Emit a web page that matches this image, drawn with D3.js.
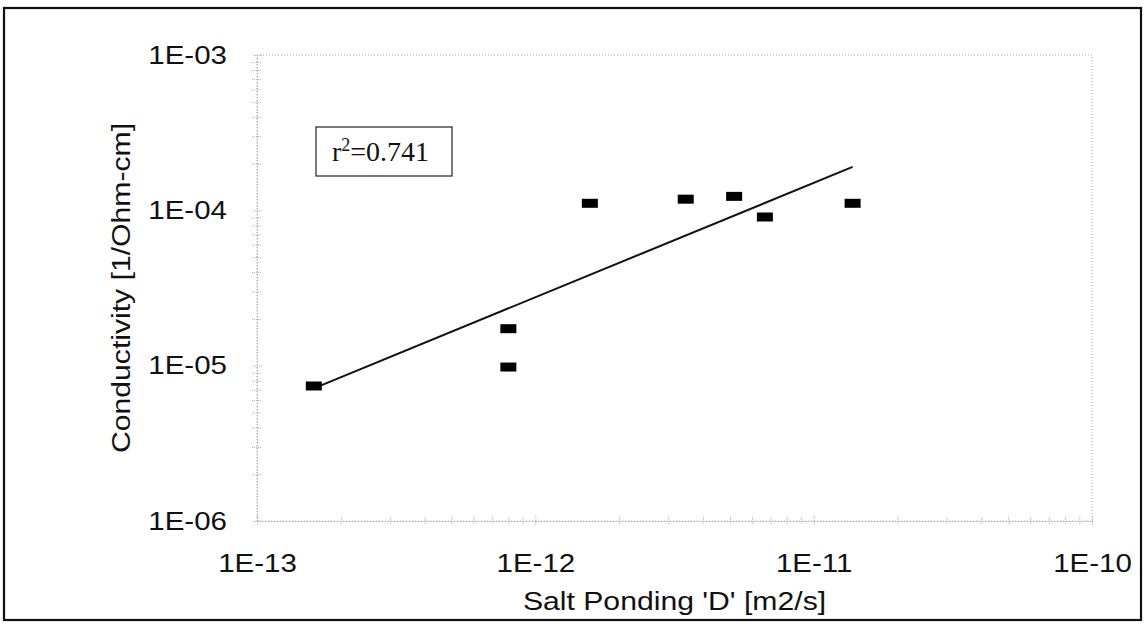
<!DOCTYPE html>
<html>
<head>
<meta charset="utf-8">
<script src="https://cdn.jsdelivr.net/npm/d3@7"></script>
<style>
  body { margin: 0; background: #fff; }
  text { font-family: "Liberation Sans", Arial, sans-serif; fill: #111; }
  .axis path.domain { stroke: #9a9a9a; stroke-dasharray: 1,2; }
  .axis line { stroke: #b4b4b4; stroke-dasharray: 1,1; }
  .plot-frame { fill: none; stroke: #a8a8a8; stroke-dasharray: 1,2; }
</style>
</head>
<body>
<div id="chart"></div>
<script>
// salt ponding diffusion coefficient vs. conductivity
const diffusion = [1.60e-13, 8.0e-13, 8.0e-13, 1.57e-12, 3.47e-12, 5.18e-12, 6.68e-12, 1.38e-11];
const conductivity = [7.4e-6, 1.73e-5, 9.8e-6, 1.11e-4, 1.18e-4, 1.23e-4, 9.06e-5, 1.11e-4];
const xTicks = [1e-13, 1e-12, 1e-11, 1e-10];
const xTickLabels = ["1E-13", "1E-12", "1E-11", "1E-10"];
const yTicks = [1e-6, 1e-5, 1e-4, 1e-3];
const yTickLabels = ["1E-06", "1E-05", "1E-04", "1E-03"];
const rSquared = "0.741";

class LogScatter {
  constructor(_config) {
    this.config = {
      parent: _config.parent,
      width: _config.width || 1147,
      height: _config.height || 635,
      margin: _config.margin || { top: 55, right: 55, bottom: 114, left: 257 },
      stretch: 1.18,
      markerW: 16,
      markerH: 9,
    };
    this.initVis();
  }

  // the scanned labels are wider than the plain font
  stretchText(sel, k) {
    sel.each(function () {
      const len = this.getComputedTextLength();
      d3.select(this).attr("textLength", len * k).attr("lengthAdjust", "spacingAndGlyphs");
    });
  }

  initVis() {
    let vis = this;
    const m = vis.config.margin;
    vis.width = vis.config.width - m.left - m.right;
    vis.height = vis.config.height - m.top - m.bottom;

    vis.svg = d3.select(vis.config.parent).append("svg")
      .attr("width", vis.config.width)
      .attr("height", vis.config.height);

    // outer chart border
    vis.svg.append("rect")
      .attr("x", 4).attr("y", 8)
      .attr("width", 1137).attr("height", 612)
      .attr("fill", "none").attr("stroke", "#111").attr("stroke-width", 2.2);

    vis.chart = vis.svg.append("g")
      .attr("transform", `translate(${m.left},${m.top})`);

    vis.x = d3.scaleLog().domain([1e-13, 1e-10]).range([0, vis.width]);
    vis.y = d3.scaleLog().domain([1e-6, 1e-3]).range([vis.height, 0]);

    vis.chart.append("rect")
      .attr("class", "plot-frame")
      .attr("width", vis.width).attr("height", vis.height);

    this.updateVis();
  }

  updateVis() {
    const vis = this;
    const k = vis.config.stretch;

    const minorX = vis.x.ticks().filter((d) => !xTicks.includes(d));
    const minorY = vis.y.ticks().filter((d) => !yTicks.includes(d));

    // minor ticks crossing the axes
    const xMinor = vis.chart.append("g").attr("class", "axis")
      .attr("transform", `translate(0,${vis.height})`)
      .call(d3.axisBottom(vis.x).tickValues(minorX).tickFormat("").tickSizeOuter(0));
    xMinor.selectAll("line").attr("y1", -4).attr("y2", 4);
    xMinor.select(".domain").remove();

    const yMinor = vis.chart.append("g").attr("class", "axis")
      .call(d3.axisLeft(vis.y).tickValues(minorY).tickFormat("").tickSizeOuter(0));
    yMinor.selectAll("line").attr("x1", -5).attr("x2", 5);
    yMinor.select(".domain").remove();

    vis.xAxisG = vis.chart.append("g").attr("class", "axis")
      .attr("transform", `translate(0,${vis.height})`)
      .call(d3.axisBottom(vis.x)
        .tickValues(xTicks)
        .tickFormat((d, i) => xTickLabels[i])
        .tickSizeInner(5).tickSizeOuter(0).tickPadding(28));
    vis.xAxisG.selectAll("line").attr("y1", -5);
    vis.xAxisG.selectAll("text").attr("font-size", 25).style("font-family", null);
    vis.stretchText(vis.xAxisG.selectAll("text"), k);

    vis.yAxisG = vis.chart.append("g").attr("class", "axis")
      .call(d3.axisLeft(vis.y)
        .tickValues(yTicks)
        .tickFormat((d, i) => yTickLabels[i])
        .tickSizeInner(5).tickSizeOuter(0).tickPadding(25));
    vis.yAxisG.selectAll("line").attr("x1", 5).attr("x2", -5);
    vis.yAxisG.selectAll("text").attr("font-size", 25).style("font-family", null);
    vis.stretchText(vis.yAxisG.selectAll("text"), k);

    // axis titles
    const xTitle = vis.svg.append("text")
      .attr("x", vis.config.margin.left + vis.width / 2)
      .attr("y", 610)
      .attr("text-anchor", "middle")
      .attr("font-size", 26)
      .text("Salt Ponding 'D' [m2/s]");
    vis.stretchText(xTitle, 1.16);

    const yTitle = vis.svg.append("text")
      .attr("transform", `translate(130,${vis.config.margin.top + vis.height / 2}) rotate(-90)`)
      .attr("text-anchor", "middle")
      .attr("font-size", 26)
      .text("Conductivity [1/Ohm-cm]");
    vis.stretchText(yTitle, 1.16);

    // power trend line: least squares in log-log space
    const lx = diffusion.map(Math.log10);
    const ly = conductivity.map(Math.log10);
    const mx = d3.mean(lx), my = d3.mean(ly);
    const sxy = d3.sum(lx, (d, i) => (d - mx) * (ly[i] - my));
    const sxx = d3.sum(lx, (d) => (d - mx) ** 2);
    const slope = sxy / sxx;
    const fit = (d) => Math.pow(10, my + slope * (Math.log10(d) - mx));
    const xExt = d3.extent(diffusion);

    vis.chart.append("path")
      .datum(xExt)
      .attr("fill", "none")
      .attr("stroke", "#111")
      .attr("stroke-width", 2)
      .attr("d", d3.line().x((d) => vis.x(d)).y((d) => vis.y(fit(d))));

    vis.chart.selectAll("rect.marker")
      .data(diffusion.map((d, i) => ({ d, c: conductivity[i] })))
      .join("rect")
      .attr("class", "marker")
      .attr("x", (p) => vis.x(p.d) - vis.config.markerW / 2)
      .attr("y", (p) => vis.y(p.c) - vis.config.markerH / 2)
      .attr("width", vis.config.markerW)
      .attr("height", vis.config.markerH)
      .attr("fill", "#000");

    // r-squared label box
    const box = vis.svg.append("g").attr("transform", "translate(316,127)");
    box.append("rect")
      .attr("width", 136).attr("height", 49)
      .attr("fill", "#fff").attr("stroke", "#333").attr("stroke-width", 1.3);
    const rText = box.append("text")
      .attr("x", 16).attr("y", 34)
      .attr("font-size", 28)
      .style("font-family", "'Liberation Serif', 'Times New Roman', serif");
    rText.append("tspan").text("r");
    rText.append("tspan").attr("font-size", 18).attr("dy", -10).text("2");
    rText.append("tspan").attr("dy", 10).text("=" + rSquared);
  }
}

new LogScatter({ parent: "#chart" });
</script>
</body>
</html>
